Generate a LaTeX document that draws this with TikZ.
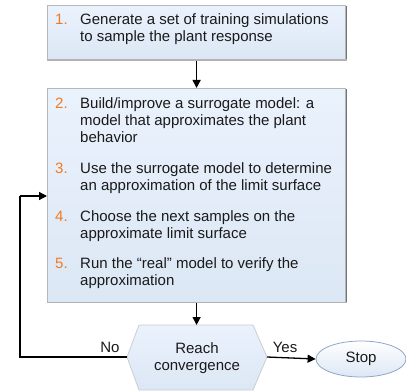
\documentclass[tikz,border=0pt]{standalone}
\usepackage{fontspec}
\setmainfont{Liberation Sans}
\usetikzlibrary{shapes.geometric,arrows.meta}
\definecolor{boxfill}{HTML}{EAF2FC}
\definecolor{boxfillb}{HTML}{DCE7F5}
\definecolor{boxline}{HTML}{B4B8BE}
\definecolor{numcol}{HTML}{F07A22}
\definecolor{ellline}{HTML}{8FA6C6}
\definecolor{txt}{HTML}{1A1A1A}
\tikzset{
  stepbox/.style={draw=boxline, line width=1.2pt, top color=boxfill, bottom color=boxfillb, minimum width=298pt, inner sep=0pt},
  conn/.style={-{Triangle[length=8pt,width=8pt]}, line width=1.3pt},
  plain/.style={line width=1.3pt},
  lbl/.style={font=\fontsize{15pt}{17.5pt}\selectfont, text=txt},
  itemtxt/.style={lbl, anchor=north west, align=left, inner sep=0pt},
}
\newcommand{\itm}[2]{\makebox[25pt][l]{\textcolor{numcol}{#1}}\parbox[t]{275pt}{#2}}
\begin{document}
\begin{tikzpicture}[x=1pt,y=-1pt]
\useasboundingbox (0,0) rectangle (406,390);
% box 1
\node[stepbox, minimum height=55pt, anchor=north west] (b1) at (47,5) {};
\fill[black!55] (345.5,6) rectangle (347,61);
\fill[black!30] (48,59.5) rectangle (347,61);
\node[itemtxt] (t1) at (55,13) {\itm{1.}{Generate a set of training simulations\\to sample the plant response}};
% box 2
\node[stepbox, minimum height=214pt, anchor=north west] (b2) at (47,88) {};
\fill[black!55] (345.5,89) rectangle (347,303);
\fill[black!30] (48,301.5) rectangle (347,303);
\node[itemtxt] (t2) at (55,97) {\fontsize{15pt}{17pt}\selectfont\itm{2.}{Build/improve a surrogate model: a\\model that approximates the plant\\behavior}};
\node[itemtxt] (t3) at (55,162) {\fontsize{15pt}{17pt}\selectfont\itm{3.}{Use the surrogate model to determine\\an approximation of the limit surface}};
\node[itemtxt] (t4) at (55,210) {\fontsize{15pt}{17pt}\selectfont\itm{4.}{Choose the next samples on the\\approximate limit surface}};
\node[itemtxt] (t5) at (55,257) {\fontsize{15pt}{17pt}\selectfont\itm{5.}{Run the “real” model to verify the\\approximation}};
% hexagon
\coordinate (hl) at (127,357);
\coordinate (htl) at (139,325);
\coordinate (htr) at (253,325);
\coordinate (hr) at (267,357);
\coordinate (hbr) at (253,390);
\coordinate (hbl) at (139,390);
\path[draw=boxline!70, line width=0.8pt, top color=boxfill, bottom color=boxfillb] (hl) -- (htl) -- (htr) -- (hr) -- (hbr) -- (hbl) -- cycle;
\node[lbl, align=center] (hx) at (197,358) {Reach\\convergence};
% stop
\node[ellipse, draw=ellline, line width=0.8pt, top color=white, bottom color=boxfillb, minimum width=90pt, minimum height=36pt, lbl] (stop) at (361,359) {Stop};
% connectors
\draw[conn] (b1.south) -- (b2.north);
\draw[conn] (b2.south) -- (htl -| b2.south);
\draw[conn] (hr) -- (stop.west);
\coordinate (lc) at (20,357);
\coordinate (lt) at (20,196);
\draw[plain] (hl) -- (lc) -- (lt);
\draw[conn] (lt) -- (lt -| b2.west);
\node[lbl] (no) at (110,347) {No};
\node[lbl] (yes) at (285,347) {Yes};
\end{tikzpicture}
\end{document}
